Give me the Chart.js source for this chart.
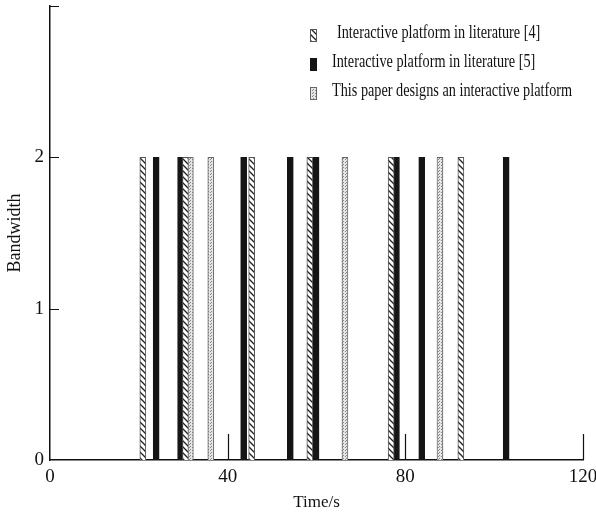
<!DOCTYPE html>
<html>
<head>
<meta charset="utf-8">
<script src="https://cdn.jsdelivr.net/npm/chart.js@4.4.1/dist/chart.umd.min.js"></script>
<style>
  html, body { margin:0; padding:0; background:#fff; }
  #wrap { width:596px; height:517px; position:relative; }
</style>
</head>
<body>
<div id="wrap"><canvas id="c"></canvas></div>
<script>
// bar start times (s), every bar reaches bandwidth 2
const lit4Times  = [20.9, 30.5, 45.4, 58.5, 76.8, 92.5];
const lit5Times  = [23.9, 29.4, 43.6, 54.1, 59.9, 78.0, 83.7, 102.7];
const paperTimes = [31.6, 36.2, 66.4, 87.8];
const barValue = 2;
const seriesLabels = [
  'Interactive platform in literature [4]',
  'Interactive platform in literature [5]',
  'This paper designs an interactive platform'
];
const xTicks = [0, 40, 80, 120];
const yTicks = [0, 1, 2];
const yMax = 3;

// fill patterns
function hatchPattern(){
  const c = document.createElement('canvas'); c.width = 6; c.height = 6;
  const g = c.getContext('2d');
  g.fillStyle = '#fff'; g.fillRect(0,0,6,6);
  g.strokeStyle = '#222'; g.lineWidth = 1.3;
  g.beginPath();
  g.moveTo(-1,-1); g.lineTo(7,7);
  g.moveTo(-1,5); g.lineTo(1,7);
  g.moveTo(5,-1); g.lineTo(7,1);
  g.stroke();
  return g.createPattern(c, 'repeat');
}
function dotPattern(){
  const c = document.createElement('canvas'); c.width = 3; c.height = 3;
  const g = c.getContext('2d');
  g.fillStyle = '#e6e6e6'; g.fillRect(0,0,3,3);
  g.fillStyle = '#888'; g.fillRect(0,0,1,1); g.fillRect(1,2,1,1);
  return g.createPattern(c, 'repeat');
}
const hatch = hatchPattern();
const dots = dotPattern();

const pts = arr => arr.map(t => ({x:t, y:barValue}));
const serif = '"Liberation Serif", "Times New Roman", serif';

// legend drawn in the top-right of the plot (tall, narrow serif look)
const legendBox = {
  id:'legendBox',
  afterDraw(chart){
    const ctx = chart.ctx;
    chart.data.datasets.forEach((ds, i) => {
      const y = 33 + i*29;
      ctx.save();
      ctx.fillStyle = ds.backgroundColor;
      ctx.fillRect(310, y-4, 7, 13);
      ctx.strokeStyle = ds.borderColor; ctx.lineWidth = 1;
      ctx.strokeRect(310.5, y-3.5, 6, 12);
      ctx.translate(i === 0 ? 337 : 332, y);
      ctx.scale(0.75, 1);
      ctx.font = '19px ' + serif;
      ctx.textBaseline = 'middle';
      ctx.fillStyle = '#111';
      ctx.fillText(ds.label, 0, 0);
      ctx.restore();
    });
  }
};

// short inward ticks on both axes
const innerTicks = {
  id:'innerTicks',
  afterDraw(chart){
    const ctx = chart.ctx, xs = chart.scales.x, ys = chart.scales.y;
    const a = chart.chartArea;
    ctx.save();
    ctx.strokeStyle = '#111'; ctx.lineWidth = 1.2;
    ctx.beginPath();
    yTicks.slice(1).concat([yMax]).forEach(v => {
      const py = Math.round(ys.getPixelForValue(v)) + 0.5;
      ctx.moveTo(a.left, py); ctx.lineTo(a.left + 9, py);
    });
    xTicks.slice(1).forEach(v => {
      const px = Math.round(xs.getPixelForValue(v)) + 0.5;
      ctx.moveTo(px, a.bottom); ctx.lineTo(px, a.bottom - 26);
    });
    ctx.stroke();
    ctx.restore();
  }
};

new Chart(document.getElementById('c'), {
  type:'bar',
  data:{
    datasets:[
      {label:seriesLabels[0], data:pts(lit4Times), backgroundColor:hatch, borderColor:'#555', borderWidth:1},
      {label:seriesLabels[1], data:pts(lit5Times), backgroundColor:'#151515', borderColor:'#151515', borderWidth:1},
      {label:seriesLabels[2], data:pts(paperTimes), backgroundColor:dots, borderColor:'#666', borderWidth:1}
    ]
  },
  options:{
    responsive:true, maintainAspectRatio:false, animation:false,
    layout:{ padding:{ top:6, right:13, left:0, bottom:0 } },
    datasets:{ bar:{ barThickness:6, grouped:false, borderSkipped:'bottom' } },
    plugins:{ legend:{display:false}, tooltip:{enabled:false} },
    scales:{
      x:{
        type:'linear', min:0, max:120, offset:false,
        afterBuildTicks: s => { s.ticks = xTicks.map(v => ({value:v})); },
        afterFit: s => { s.height = 57; s.paddingRight = 0; s.paddingLeft = 0; },
        grid:{ display:false, drawTicks:false },
        border:{ display:true, color:'#111', width:1.5 },
        ticks:{ color:'#111', font:{family:serif, size:19}, padding:6, maxRotation:0 },
        title:{ display:true, text:'Time/s', color:'#111', font:{family:serif, size:17}, padding:{top:1} }
      },
      y:{
        min:0, max:yMax,
        afterBuildTicks: s => { s.ticks = yTicks.map(v => ({value:v})); },
        afterFit: s => { s.width = 50; s.paddingTop = 0; s.paddingBottom = 0; },
        grid:{ display:false, drawTicks:false },
        border:{ display:true, color:'#111', width:1.5 },
        ticks:{ color:'#111', font:{family:serif, size:19}, padding:6 },
        title:{ display:true, text:'Bandwidth', color:'#111', font:{family:serif, size:18}, padding:{bottom:3} }
      }
    }
  },
  plugins:[legendBox, innerTicks]
});
</script>
</body>
</html>
